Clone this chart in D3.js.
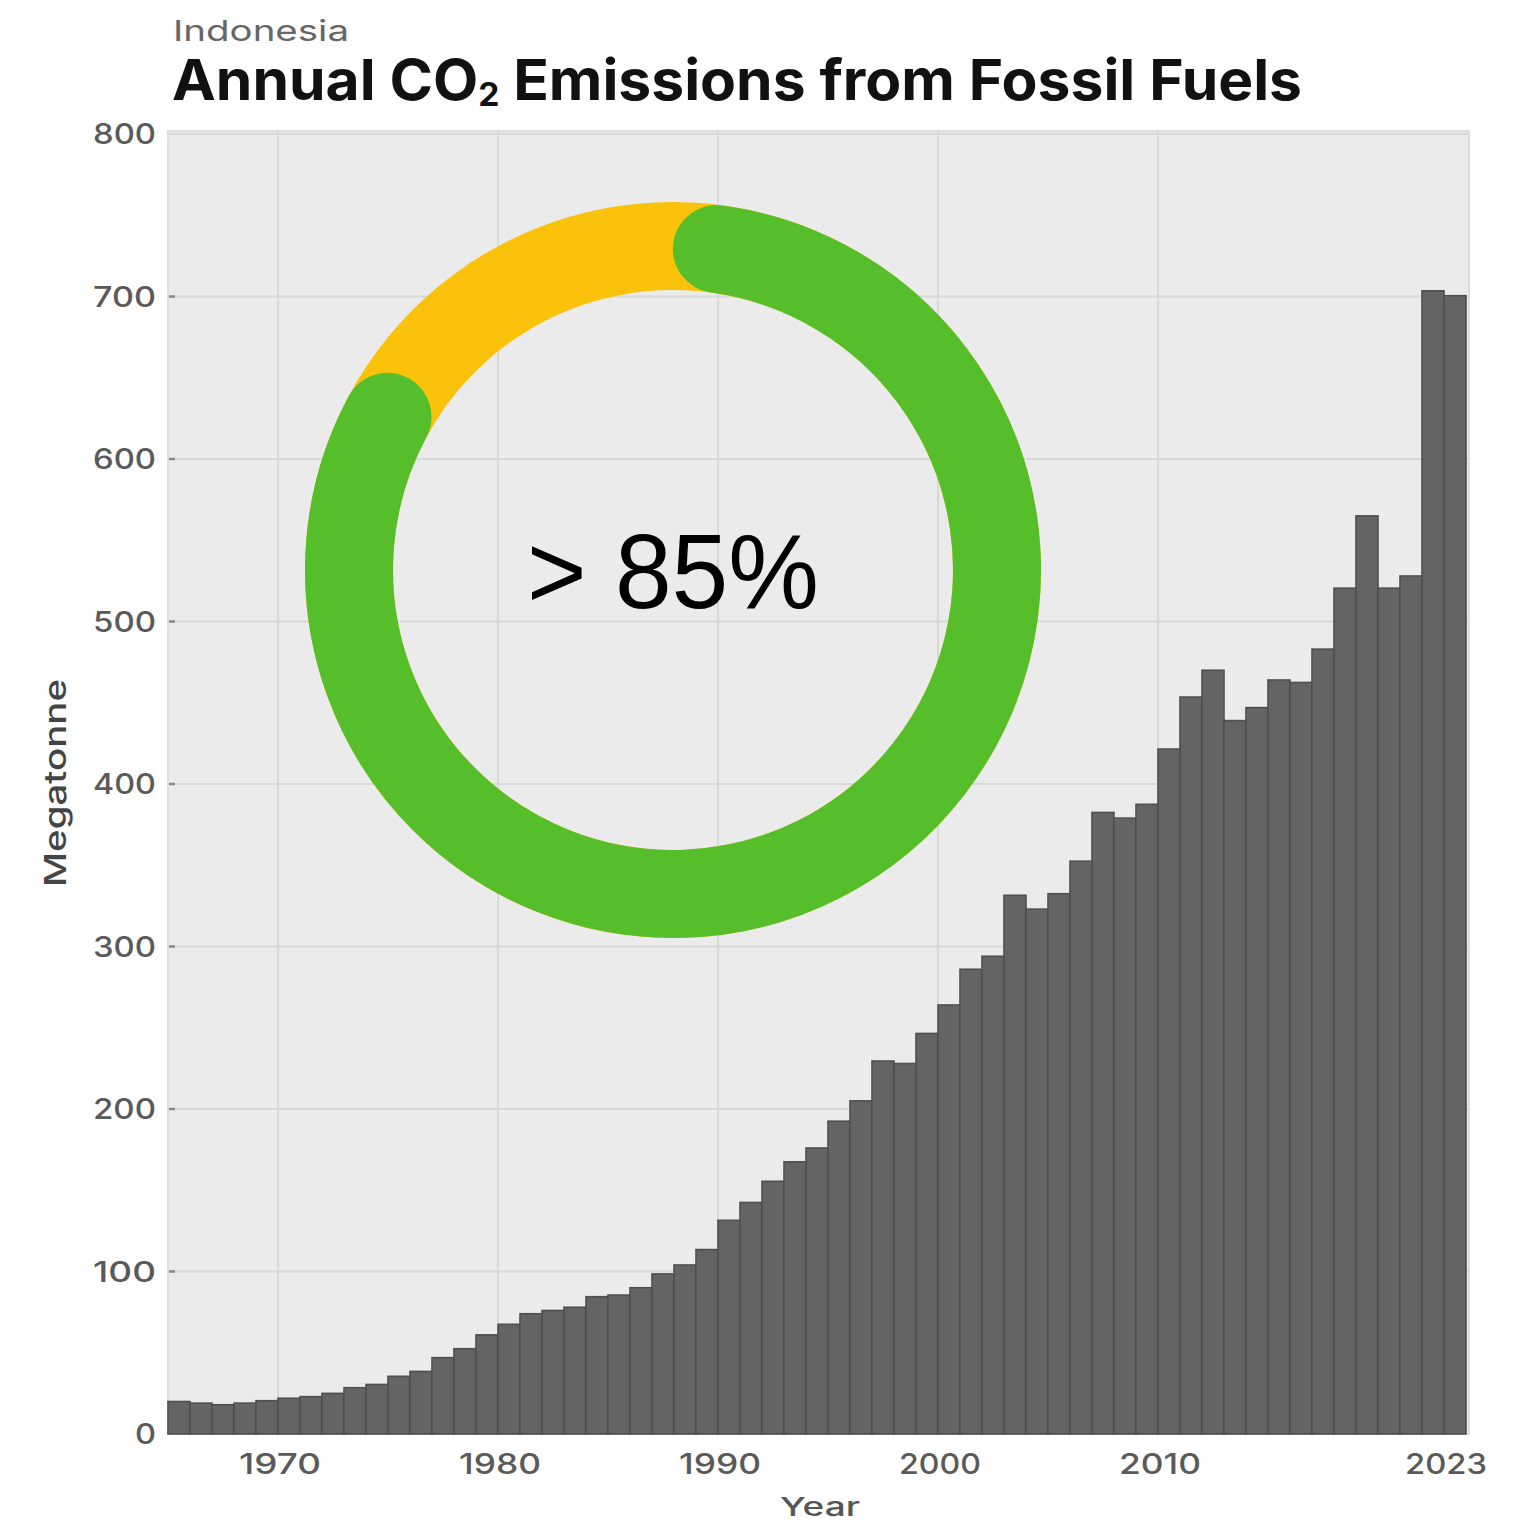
<!DOCTYPE html>
<html>
<head>
<meta charset="utf-8">
<script src="https://cdn.jsdelivr.net/npm/d3@7"></script>
<style>
  html, body { margin: 0; padding: 0; background: #ffffff; }
  svg { display: block; }
</style>
</head>
<body>
<svg id="chart" width="1526" height="1523"></svg>
<script>
const years = [1965,1966,1967,1968,1969,1970,1971,1972,1973,1974,1975,1976,1977,1978,1979,
  1980,1981,1982,1983,1984,1985,1986,1987,1988,1989,1990,1991,1992,1993,1994,1995,1996,1997,1998,1999,
  2000,2001,2002,2003,2004,2005,2006,2007,2008,2009,2010,2011,2012,2013,2014,2015,2016,2017,2018,2019,
  2020,2021,2022,2023];
const emissions = [20,19,18,19,20.5,22,23,25,28.5,30.5,35.5,38.5,47,52.5,61,
  67.5,74,76,78,84.5,85.5,90,98.5,104,113.5,131.5,142.5,155.5,167.5,176,192.5,205,229.5,228,246.5,
  264,286,294,331.5,323,332.5,352.5,382.5,379,387.5,421.5,453.5,470,439,447,464,462.5,483,520.5,565,
  520.5,528,703.5,700.5];
const yTicks = [0,100,200,300,400,500,600,700,800];
const xTicks = [1970,1980,1990,2000,2010,2023];
const xGrid = [1970,1980,1990,2000,2010];
const donutShare = 0.85;
const subtitle = "Indonesia";
const centerLabel = "> 85%";

const svg = d3.select("#chart");
const x = d3.scaleLinear().domain([1965, 2024]).range([168, 1466]);
const y = d3.scaleLinear().domain([0, 800]).range([1434, 134]);
const fontUI = "Inter, 'Liberation Sans', sans-serif";

// plot background
svg.append("rect")
  .attr("x", x(1965)).attr("y", y(800) - 3)
  .attr("width", x(2024) - x(1965) + 3).attr("height", y(0) - y(800) + 3)
  .attr("fill", "#ebebeb").attr("stroke", "#dedede").attr("stroke-width", 2);

// gridlines
svg.append("g").selectAll("line").data(yTicks.filter(d => d > 0)).join("line")
  .attr("x1", x(1965)).attr("x2", x(2024) + 3)
  .attr("y1", d => y(d)).attr("y2", d => y(d))
  .attr("stroke", "#d8d8d8").attr("stroke-width", 2);
svg.append("g").selectAll("line").data(xGrid).join("line")
  .attr("x1", d => x(d)).attr("x2", d => x(d))
  .attr("y1", y(800) - 3).attr("y2", y(0))
  .attr("stroke", "#d8d8d8").attr("stroke-width", 2);

// small tick marks on left
svg.append("g").selectAll("line").data(yTicks.filter(d => d > 0 && d < 800)).join("line")
  .attr("x1", x(1965) + 1).attr("x2", x(1965) + 7)
  .attr("y1", d => y(d)).attr("y2", d => y(d))
  .attr("stroke", "#8a8a8a").attr("stroke-width", 2.5);

// bars
svg.append("g").selectAll("rect").data(years.map((yr, i) => ({yr, v: emissions[i]}))).join("rect")
  .attr("x", d => x(d.yr)).attr("width", d => x(d.yr + 1) - x(d.yr))
  .attr("y", d => y(d.v)).attr("height", d => y(0) - y(d.v))
  .attr("fill", "#646464").attr("stroke", "#4f4f4f").attr("stroke-width", 1.6);

// y tick labels
svg.append("g").selectAll("text").data(yTicks).join("text")
  .attr("x", 156).attr("y", d => y(d) + 10)
  .attr("text-anchor", "end")
  .attr("font-family", fontUI).attr("font-weight", 500)
  .attr("font-size", 28).attr("fill", "#5a5a5a")
  .attr("textLength", d => String(d).length * 21)
  .attr("lengthAdjust", "spacingAndGlyphs")
  .text(d => d);

// x tick labels
svg.append("g").selectAll("text").data(xTicks).join("text")
  .attr("x", d => x(d) + 2).attr("y", 1474)
  .attr("text-anchor", "middle")
  .attr("font-family", fontUI).attr("font-weight", 500)
  .attr("font-size", 28).attr("fill", "#5a5a5a")
  .attr("textLength", 82)
  .attr("lengthAdjust", "spacingAndGlyphs")
  .text(d => d);

// axis titles
svg.append("text")
  .attr("x", 820).attr("y", 1516)
  .attr("text-anchor", "middle")
  .attr("font-family", fontUI).attr("font-weight", 500)
  .attr("font-size", 26).attr("fill", "#555")
  .attr("textLength", 80).attr("lengthAdjust", "spacingAndGlyphs")
  .text("Year");
svg.append("text")
  .attr("transform", "translate(66,783) rotate(-90)")
  .attr("text-anchor", "middle")
  .attr("font-family", fontUI).attr("font-weight", 500)
  .attr("font-size", 30).attr("fill", "#444")
  .attr("textLength", 208).attr("lengthAdjust", "spacingAndGlyphs")
  .text("Megatonne");

// subtitle and title
svg.append("text")
  .attr("x", 173).attr("y", 41)
  .attr("font-family", fontUI)
  .attr("font-size", 29).attr("fill", "#666")
  .attr("textLength", 176).attr("lengthAdjust", "spacingAndGlyphs")
  .text(subtitle);

const title = svg.append("text")
  .attr("x", 172).attr("y", 100)
  .attr("font-family", fontUI)
  .attr("font-weight", 700)
  .attr("font-size", 56).attr("fill", "#111")
  .attr("textLength", 1130).attr("lengthAdjust", "spacingAndGlyphs");
title.append("tspan").text("Annual CO");
title.append("tspan").attr("font-size", 32).attr("dy", 6).text("2");
title.append("tspan").attr("dy", -6).text(" Emissions from Fossil Fuels");

// donut: yellow track + green progress arc with round caps
const cx = 673, cy = 570, rOuter = 368, rInner = 280;
const rMid = (rInner + rOuter) / 2, thick = rOuter - rInner;
const capAngle = (thick / 2) / rMid;
const dg = svg.append("g").attr("transform", `translate(${cx},${cy})`);
dg.append("path")
  .attr("d", d3.arc().innerRadius(rInner).outerRadius(rOuter).startAngle(0).endAngle(2 * Math.PI)())
  .attr("fill", "#fbc20c");
const p = d3.path();
const a0 = -Math.PI / 2 + capAngle, a1 = -Math.PI / 2 + donutShare * 2 * Math.PI - capAngle;
p.moveTo(rMid * Math.cos(a0), rMid * Math.sin(a0));
p.arc(0, 0, rMid, a0, a1, false);
dg.append("path")
  .attr("d", p.toString())
  .attr("fill", "none")
  .attr("stroke", "#57be2b")
  .attr("stroke-width", thick)
  .attr("stroke-linecap", "round");

dg.append("text")
  .attr("x", 0).attr("y", 38)
  .attr("text-anchor", "middle")
  .attr("font-family", "'Liberation Sans', Arial, sans-serif")
  .attr("font-weight", 400)
  .attr("font-size", 106).attr("fill", "#000")
  .attr("textLength", 292).attr("lengthAdjust", "spacingAndGlyphs")
  .text(centerLabel);
</script>
</body>
</html>
